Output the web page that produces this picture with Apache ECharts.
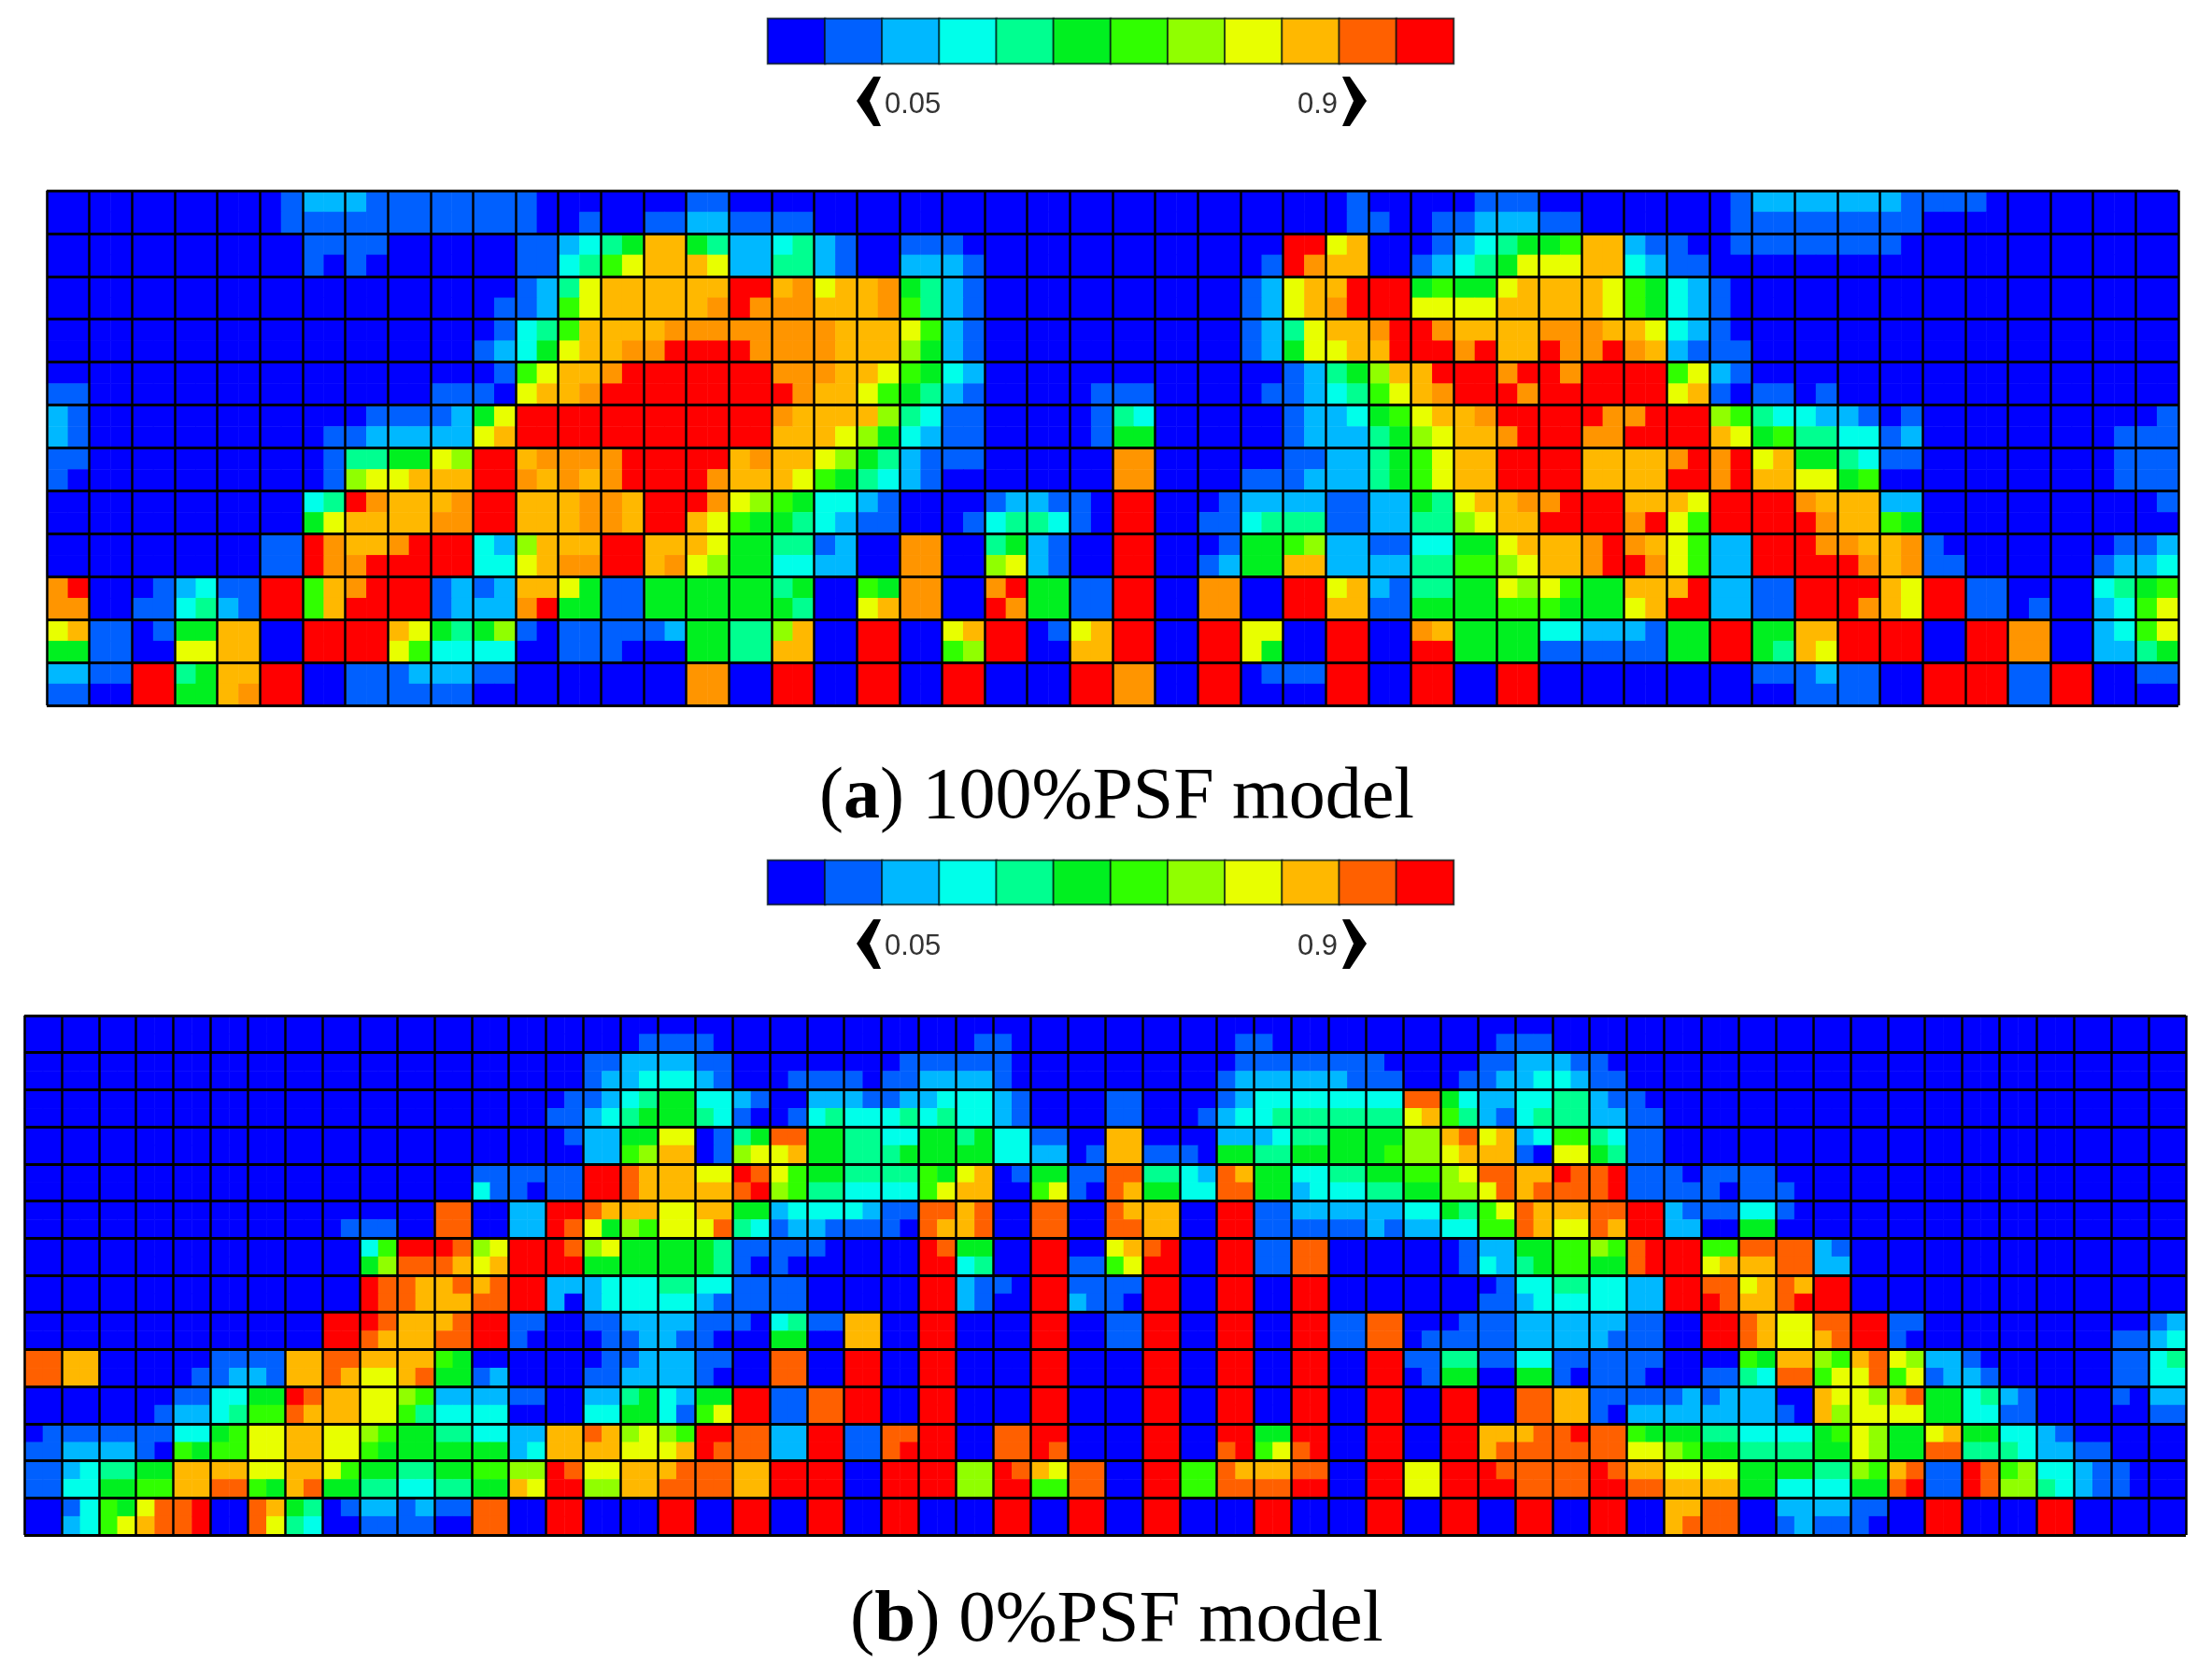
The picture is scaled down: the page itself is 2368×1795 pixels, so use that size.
<!DOCTYPE html>
<html>
<head>
<meta charset="utf-8">
<title>PSF model contour</title>
<script src="https://cdn.jsdelivr.net/npm/echarts@6/dist/echarts.min.js"></script>
<style>
html, body { margin: 0; padding: 0; background: #fff; }
#chartmain { width: 2368px; height: 1795px; }
</style>
</head>
<body>
<div id="chartmain"></div>
<script>
// contour bands, low to high (0-9, a, b)
var legendBands = [0, 1, 2, 3, 4, 5, 6, 7, 8, 9, 10, 11];
var bandColors = ['#0000ff', '#0060ff', '#00b8ff', '#00ffea', '#00ff90', '#00f020', '#30ff00', '#90ff00', '#e8ff00', '#ffb800', '#ff6000', '#ff0000'];
// panel (a) is a little lighter in its orange band
var topBandColors = ['#0000ff', '#0060ff', '#00b8ff', '#00ffea', '#00ff90', '#00f020', '#30ff00', '#90ff00', '#e8ff00', '#ffb800', '#ff9500', '#ff0000'];
var tickLabels = ['0.05', '0.9'];
var captionA = '({b|a}) 100%PSF model';
var captionB = '({b|b}) 0%PSF model';

// each pair of digits is one element of the mesh, each element has two lines of rows
// panel (a): 50 elements x 12 rows
var topRows = [
'00 00 00 00 00 01 22 21 11 11  11 10 00 00 00 11 00 00 00 00  00 00 00 00 00 00 00 00 00 00  01 00 00 01 11 00 00 00 00 01  22 22 22 21 11 10 00 00 00 00',
'00 00 00 00 00 01 11 11 11 11  11 10 01 00 11 22 11 11 00 00  00 00 00 00 00 00 00 00 00 00  01 10 01 12 22 11 00 00 00 01  11 11 11 11 00 00 00 00 00 00',
'00 00 00 00 00 00 11 11 00 00  00 11 23 45 99 54 22 34 21 00  11 10 00 00 00 00 00 00 00 bb  89 00 01 23 45 56 99 21 10 01  11 11 11 10 00 00 00 00 00 00',
'00 00 00 00 00 00 10 10 00 00  00 11 34 68 99 98 22 44 21 00  22 21 00 00 00 00 00 00 01 ba  99 00 12 34 58 88 99 32 11 00  00 00 00 00 00 00 00 00 00 00',
'00 00 00 00 00 00 00 00 00 00  00 12 48 99 99 99 bb 9a 89 9a  54 21 00 00 00 00 00 00 12 89  9b bb 56 55 89 99 98 65 32 10  00 00 00 00 00 00 00 00 00 00',
'00 00 00 00 00 00 00 00 00 00  01 12 68 99 99 9a ba aa 99 9a  64 21 00 00 00 00 00 00 12 89  ab bb 88 88 99 99 98 65 32 10  00 00 00 00 00 00 00 00 00 00',
'00 00 00 00 00 00 00 00 00 00  01 34 69 99 9a aa aa aa a9 99  86 21 00 00 00 00 00 00 12 48  99 ab ba 99 99 aa a9 98 32 10  00 00 00 00 00 00 00 00 00 00',
'00 00 00 00 00 00 00 00 00 00  12 35 89 9a ab bb ba aa a9 99  75 21 00 00 00 00 00 00 12 58  89 9b bb ab 99 ba ab a9 21 11  00 00 00 00 00 00 00 00 00 00',
'00 00 00 00 00 00 00 00 00 00  01 68 99 ab bb bb bb aa a9 98  65 32 00 00 00 00 00 00 00 12  45 79 9b bb ab ba bb bb 68 21  00 00 00 00 00 00 00 00 00 00',
'11 00 00 00 00 00 00 00 00 11  10 89 9a bb bb bb bb ba 99 86  54 21 00 00 01 11 00 00 01 12  34 68 9a bb ba bb bb bb 89 10  11 01 00 00 00 00 00 00 00 00',
'21 00 00 00 00 00 00 01 11 12  58 bb bb bb bb bb bb a9 99 97  43 11 00 00 01 43 00 00 00 12  23 56 89 9a bb bb ba ab bb 76  43 32 21 01 00 00 00 00 00 01',
'21 00 00 00 00 00 01 12 22 22  89 bb bb bb bb bb bb 99 98 75  32 11 00 00 01 55 00 00 00 12  22 45 78 99 ab bb aa bb bb 98  56 44 33 12 00 00 00 00 01 11',
'11 00 00 00 00 00 01 44 55 87  bb 9a aa ab bb bb 9a 99 87 54  21 11 00 00 00 aa 00 00 00 11  22 45 68 99 bb bb 99 99 ab ab  89 55 43 11 00 00 00 00 01 11',
'10 00 00 00 00 00 01 78 89 99  bb a9 a9 ab bb ba 99 98 65 43  21 00 00 00 00 aa 00 00 11 12  22 45 68 99 bb bb 99 99 bb ab  99 88 56 00 00 00 00 00 01 11',
'00 00 00 00 00 00 34 ba 99 9a  bb 99 9a a9 bb ba 87 65 33 21  00 00 12 21 10 bb 00 01 22 22  11 22 54 89 9a ab bb 99 98 bb  bb a9 99 22 00 00 00 00 00 01',
'00 00 00 00 00 00 58 99 99 aa  bb 99 9a a9 bb 98 65 54 32 11  00 01 34 43 10 bb 00 11 34 44  11 22 44 78 99 bb bb ab 86 bb  bb ba 99 65 00 00 00 00 00 00',
'00 00 00 00 00 11 ba 99 ab bb  32 79 99 bb 99 98 55 44 12 00  aa 00 45 21 00 bb 00 01 55 67  22 11 33 55 89 99 ab a9 86 22  bb ba a9 9a 10 00 00 00 01 12',
'00 00 00 00 00 11 ba ab bb bb  33 89 aa bb 9a 87 55 33 22 00  aa 00 78 21 00 bb 00 12 55 99  22 22 44 66 78 99 ab ba 86 22  bb bb ba 9a 11 00 00 00 12 23',
'ab 00 01 23 11 bb 69 ab bb 12  12 99 85 11 55 55 55 45 00 65  aa 00 ab 55 11 bb 00 aa 00 bb  89 21 44 55 87 86 55 99 9b 22  11 bb bb 98 bb 11 00 00 34 56',
'aa 00 11 34 21 bb 69 bb bb 12  22 ab 55 11 55 55 55 54 00 89  aa 00 ba 55 11 bb 00 aa 00 bb  99 11 55 55 66 65 55 89 bb 22  11 bb ba 98 bb 11 01 00 23 68',
'89 11 01 55 99 00 bb bb 98 54  57 10 11 11 12 55 44 79 00 bb  00 89 bb 01 89 bb 00 bb 88 00  bb 00 a9 55 55 33 22 21 55 bb  55 99 bb bb 00 bb aa 00 23 68',
'55 11 00 88 99 00 bb bb 86 33  33 00 11 10 00 55 44 99 00 bb  00 67 bb 00 99 bb 00 bb 85 00  bb 00 bb 55 55 11 11 11 55 bb  54 98 bb bb 00 bb aa 00 22 45',
'22 11 bb 45 99 bb 00 11 12 22  11 00 00 00 00 aa 00 bb 00 bb  00 bb 00 00 bb aa 00 bb 01 11  bb 00 bb 00 bb 00 00 00 00 00  11 12 11 00 bb bb 11 bb 00 11',
'11 00 bb 55 9a bb 00 11 11 11  00 00 00 00 00 aa 00 bb 00 bb  00 bb 00 00 bb aa 00 bb 00 00  bb 00 bb 00 bb 00 00 00 00 00  00 11 11 00 bb bb 11 bb 00 00'
];

// panel (b): 58 elements x 14 rows
var bottomRows = [
'00 00 00 00 00 00 00 00 00 00  00 00 00 00 00 00 00 00 00 00  00 00 00 00 00 00 00 00 00 00  00 00 00 00 00 00 00 00 00 00  00 00 00 00 00 00 00 00 00 00  00 00 00 00 00 00 00 00',
'00 00 00 00 00 00 00 00 00 00  00 00 00 00 00 00 01 11 10 00  00 00 00 00 00 01 10 00 00 00  00 00 01 10 00 00 00 00 00 01  11 00 00 00 00 00 00 00 00 00  00 00 00 00 00 00 00 00',
'00 00 00 00 00 00 00 00 00 00  00 00 00 00 00 11 22 22 11 00  00 00 00 01 11 11 10 00 00 00  00 00 01 11 11 11 10 00 00 11  22 21 10 00 00 00 00 00 00 00  00 00 00 00 00 00 00 00',
'00 00 00 00 00 00 00 00 00 00  00 00 00 00 00 12 23 33 21 00  01 11 10 11 22 22 10 00 00 00  00 00 12 22 22 21 11 00 01 12  23 32 11 00 00 00 00 00 00 00  00 00 00 00 00 00 00 00',
'00 00 00 00 00 00 00 00 00 00  00 00 00 00 01 12 34 55 33 21  00 22 21 12 23 33 21 00 00 11  00 00 12 33 33 33 33 aa 53 22  33 44 21 10 00 00 00 00 00 00  00 00 00 00 00 00 00 00',
'00 00 00 00 00 00 00 00 00 00  00 00 00 00 11 23 45 55 43 10  01 34 33 34 34 33 21 00 00 11  00 01 23 34 44 44 44 89 64 21  34 44 22 11 00 00 00 00 00 00  00 00 00 00 00 00 00 00',
'00 00 00 00 00 00 00 00 00 00  00 00 00 00 01 22 55 88 01 45  aa 55 44 33 55 45 33 11 00 99  00 00 22 23 44 55 55 77 9a 89  23 66 43 11 00 00 00 00 00 00  00 00 00 00 00 00 00 00',
'00 00 00 00 00 00 00 00 00 00  00 00 00 00 00 22 67 99 01 78  89 55 44 45 55 55 33 22 01 99  11 10 55 44 55 55 56 77 89 99  10 88 54 11 00 00 00 00 00 00  00 00 00 00 00 00 00 00',
'00 00 00 00 00 00 00 00 00 00  00 00 11 11 11 bb a9 99 88 ba  86 55 44 44 65 89 01 55 11 aa  44 32 a9 55 33 44 55 66 78 aa  99 ba ab 11 10 11 11 00 00 00  00 00 00 00 00 00 00 00',
'00 00 00 00 00 00 00 00 00 00  00 00 31 10 11 bb a9 99 99 ab  76 44 33 33 68 99 00 68 10 a9  55 33 aa 55 23 33 44 55 77 8a  9a aa ab 11 11 10 11 10 00 00  00 00 00 00 00 00 00 00',
'00 00 00 00 00 00 00 00 00 00  00 aa 00 22 bb a9 99 88 99 55  23 33 32 11 aa 9a 00 aa 00 a9  99 00 bb 11 22 22 22 33 54 68  a9 99 aa bb 21 11 33 10 00 00  00 00 00 00 00 00 00 00',
'00 00 00 00 00 00 00 00 01 11  00 aa 00 22 ba 85 76 88 8a 43  12 21 11 10 a9 9a 00 aa 00 aa  99 00 bb 11 11 11 21 22 33 66  a9 88 a9 bb 22 00 55 00 00 00  00 00 00 00 00 00 00 00',
'00 00 00 00 00 00 00 00 00 36  bb ba 78 bb ba 78 55 55 54 11  11 10 00 00 ba 55 00 bb 00 89  ab 00 bb 11 aa 00 00 00 01 22  55 66 76 ab bb 66 aa aa 21 00  00 00 00 00 00 00 00 00',
'00 00 00 00 00 00 00 00 00 57  aa a9 89 bb bb 55 55 55 54 10  10 00 00 00 bb 34 00 bb 11 68  bb 00 bb 11 aa 00 00 00 01 32  45 66 55 ab bb 89 99 aa 22 00  00 00 00 00 00 00 00 00',
'00 00 00 00 00 00 00 00 00 ba  a9 9a 9a bb 22 23 33 44 33 11  11 00 00 00 bb 21 10 bb 11 11  bb 00 bb 00 bb 00 00 00 00 01  33 44 33 22 bb aa 89 a9 bb 00  00 00 00 00 00 00 00 00',
'00 00 00 00 00 00 00 00 00 ba  a9 99 aa bb 20 23 33 33 21 11  11 00 00 00 bb 21 00 bb 21 10  bb 00 bb 00 bb 00 00 00 00 11  23 33 33 22 bb ba 99 ab bb 00  00 00 00 00 00 00 00 00',
'00 00 00 00 00 00 00 00 bb ba  99 9a bb 11 00 11 22 22 11 10  34 11 99 00 bb 00 00 bb 00 11  bb 00 bb 00 bb 11 aa 00 01 11  22 22 22 11 00 bb a9 88 aa bb  11 00 00 00 00 00 00 12',
'00 00 00 00 00 00 00 00 bb a9  99 aa bb 10 00 01 12 21 10 00  55 00 99 00 bb 00 00 bb 00 11  bb 00 bb 00 bb 11 aa 01 11 11  22 22 21 11 00 bb a9 88 9a bb  10 00 00 00 00 00 11 23',
'aa 99 00 00 00 11 11 99 aa 99  99 65 00 00 00 01 12 22 11 00  aa 00 bb 00 bb 00 00 bb 00 00  bb 00 bb 00 bb 00 bb 11 44 11  33 11 11 11 00 00 65 99 76 9a  87 22 10 00 00 00 11 34',
'aa 99 00 00 01 12 21 99 a9 88  9a 55 12 00 00 11 22 22 10 00  aa 00 bb 00 bb 00 00 bb 00 00  bb 00 bb 00 bb 00 bb 01 55 00  55 10 11 10 00 11 43 aa 68 8a  68 12 21 00 00 00 11 33',
'00 00 00 00 11 33 55 ba 99 88  76 22 22 11 00 22 45 32 55 bb  11 aa bb 00 bb 00 00 bb 00 00  bb 00 bb 00 bb 00 bb 00 bb 00  aa 99 11 11 12 12 22 00 98 87  9a 55 34 21 00 00 10 22',
'00 00 00 01 22 34 66 a9 99 88  64 33 33 00 00 33 55 31 68 bb  11 aa bb 00 bb 00 00 bb 00 00  bb 00 bb 00 bb 00 bb 00 bb 00  aa 99 10 22 22 22 22 10 97 88  88 55 33 11 00 00 00 11',
'01 11 11 11 33 56 88 99 88 76  55 44 33 22 99 a9 78 76 bb aa  22 bb 11 aa bb 00 aa bb 00 00  bb 00 bb 55 bb 00 bb 00 bb 99  9a ab aa 65 55 44 33 33 56 87  55 89 55 33 21 00 00 00',
'11 22 22 10 65 66 88 99 88 65  55 55 55 23 99 99 88 89 ba aa  22 bb 11 ab bb 00 aa ba 00 00  bb 00 ab 68 ab 00 bb 00 bb 9a  aa aa aa 88 76 55 44 44 55 87  55 aa 44 43 22 11 00 00',
'11 23 44 55 99 99 88 99 86 55  44 55 66 77 ba 88 99 9a aa 99  bb bb 00 bb bb 77 ba 98 aa 00  bb 66 a9 99 aa 00 bb 88 bb ba  aa aa ba 99 88 88 55 55 44 76  9a 11 ba 67 33 21 10 00',
'11 33 55 66 99 aa 65 9a 55 44  33 44 55 98 bb 77 99 aa aa 99  bb bb 00 bb bb 77 bb 66 aa 00  bb 66 aa aa bb 00 bb 88 bb bb  aa aa bb aa 99 99 55 33 33 55  ab 11 ba 77 43 21 10 00',
'00 13 65 8a ab 00 a9 54 01 22  12 11 aa 00 bb 00 00 bb 00 bb  00 bb 00 bb 00 00 bb 00 bb 00  bb 00 00 bb 00 00 bb 00 bb 00  bb 00 bb 00 99 aa 00 22 22 11  00 bb 00 00 bb 00 00 00',
'00 23 68 9a ab 00 a8 43 00 11  11 00 aa 00 bb 00 00 bb 00 bb  00 bb 00 bb 00 00 bb 00 bb 00  bb 00 00 bb 00 00 bb 00 bb 00  bb 00 bb 00 9a aa 00 12 11 10  00 bb 00 00 bb 00 00 00'
];

// "b" -> 11 and so on, one value per sub cell
function parseRows(rows) {
    var data = [];
    rows.forEach(function (row, y) {
        row.replace(/\s/g, '').split('').forEach(function (ch, x) {
            data.push([x, y, parseInt(ch, 16)]);
        });
    });
    return data;
}

function indexList(n) {
    var list = [];
    for (var i = 0; i < n; i++) {
        list.push(i);
    }
    return list;
}

function bandPieces(colors) {
    return legendBands.map(function (band) {
        return { value: band, color: colors[band] };
    });
}

// the mesh is drawn as the split lines of the axes, every second sub cell
function meshAxis(gridIndex, count, lineWidth) {
    return {
        type: 'category',
        gridIndex: gridIndex,
        data: indexList(count),
        z: 5,
        axisLine: { show: false },
        axisTick: { show: false },
        axisLabel: { show: false },
        splitLine: {
            show: true,
            interval: function (index) { return index % 2 === 0; },
            lineStyle: { color: '#000', width: lineWidth }
        }
    };
}

function legendAxis(gridIndex, count) {
    return {
        type: 'category',
        gridIndex: gridIndex,
        data: indexList(count),
        axisLine: { show: false },
        axisTick: { show: false },
        axisLabel: { show: false },
        splitLine: { show: false }
    };
}

function heatmapSeries(axisIndex, data) {
    return {
        type: 'heatmap',
        xAxisIndex: axisIndex,
        yAxisIndex: axisIndex,
        data: data,
        silent: true,
        progressive: 0,
        emphasis: { disabled: true }
    };
}

function legendSeries(axisIndex) {
    var s = heatmapSeries(axisIndex, legendBands.map(function (band, i) { return [i, 0, band]; }));
    s.itemStyle = { borderColor: 'rgba(0,20,20,0.75)', borderWidth: 2 };
    return s;
}

function chevron(points) {
    return { type: 'polygon', silent: true, shape: { points: points }, style: { fill: '#000' } };
}

function labelTitle(text, left, top) {
    return {
        text: text, left: left, top: top, padding: 0,
        textStyle: { fontFamily: 'Liberation Sans', fontSize: 31, fontWeight: 'normal', color: '#333' }
    };
}

function captionTitle(text, left, top, size) {
    return {
        text: text, left: left, top: top, padding: 0,
        textStyle: {
            fontFamily: 'Liberation Serif', fontSize: size, fontWeight: 'normal', color: '#000',
            rich: { b: { fontFamily: 'Liberation Serif', fontSize: size, fontWeight: 'bold', color: '#000' } }
        }
    };
}

var chart = echarts.init(document.getElementById('chartmain'));
chart.setOption({
    animation: false,
    backgroundColor: '#fff',
    title: [
        labelTitle(tickLabels[0], 947, 97),
        labelTitle(tickLabels[1], 1389, 97),
        labelTitle(tickLabels[0], 947, 998),
        labelTitle(tickLabels[1], 1389, 998),
        captionTitle(captionA, 877, 816, 78),
        captionTitle(captionB, 910, 1696, 79)
    ],
    grid: [
        { left: 50, top: 204, width: 2282, height: 551 },
        { left: 26, top: 1087, width: 2314, height: 556 },
        { left: 822, top: 20, width: 734, height: 48 },
        { left: 822, top: 921, width: 734, height: 47 }
    ],
    xAxis: [
        meshAxis(0, 100, 2.5),
        meshAxis(1, 116, 2.5),
        legendAxis(2, legendBands.length),
        legendAxis(3, legendBands.length)
    ],
    yAxis: [
        Object.assign(meshAxis(0, 24, 3), { inverse: true }),
        Object.assign(meshAxis(1, 28, 3), { inverse: true }),
        legendAxis(2, 1),
        legendAxis(3, 1)
    ],
    visualMap: [
        { type: 'piecewise', show: false, seriesIndex: [0], pieces: bandPieces(topBandColors) },
        { type: 'piecewise', show: false, seriesIndex: [1, 2, 3], pieces: bandPieces(bandColors) }
    ],
    graphic: [
        chevron([[935, 82], [943, 82], [931, 108], [943, 135], [935, 135], [917, 108]]),
        chevron([[1437, 82], [1445, 82], [1463, 108], [1445, 135], [1437, 135], [1449, 108]]),
        chevron([[935, 984], [943, 984], [931, 1010], [943, 1037], [935, 1037], [917, 1010]]),
        chevron([[1437, 984], [1445, 984], [1463, 1010], [1445, 1037], [1437, 1037], [1449, 1010]])
    ],
    series: [
        heatmapSeries(0, parseRows(topRows)),
        heatmapSeries(1, parseRows(bottomRows)),
        legendSeries(2),
        legendSeries(3)
    ]
});
</script>
</body>
</html>
